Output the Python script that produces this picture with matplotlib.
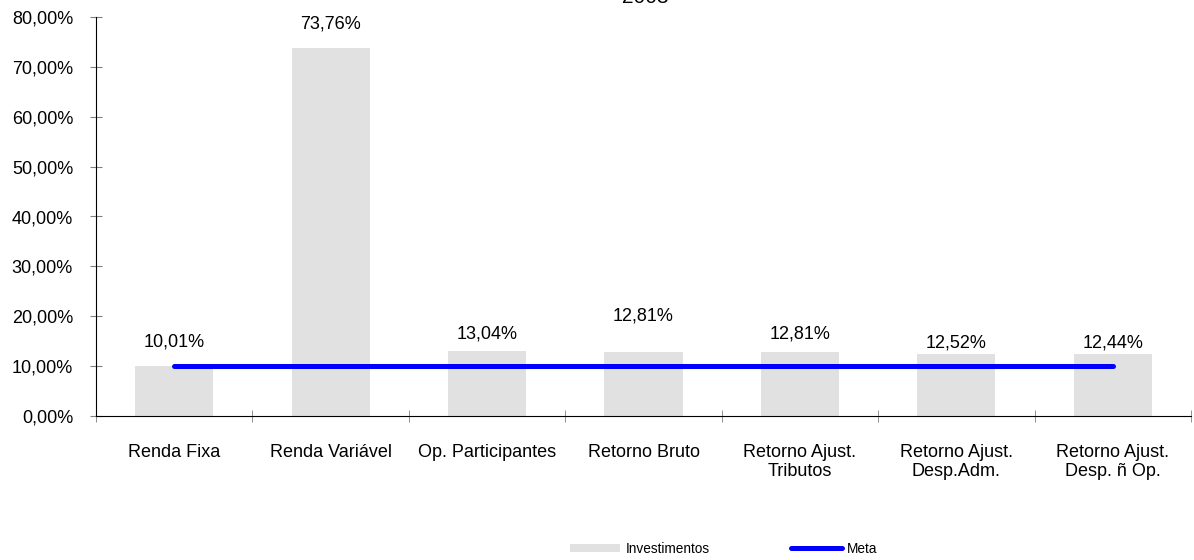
import matplotlib
matplotlib.use('Agg')
import matplotlib.pyplot as plt
from matplotlib.ticker import FuncFormatter, FixedLocator

plt.rcParams['font.family'] = ['Liberation Sans', 'DejaVu Sans']

title = '2003'
categories = ['Renda Fixa', 'Renda Variável', 'Op. Participantes', 'Retorno Bruto',
              'Retorno Ajust.\nTributos', 'Retorno Ajust.\nDesp.Adm.', 'Retorno Ajust.\nDesp. ñ Op.']
investimentos = [10.01, 73.76, 13.04, 12.81, 12.81, 12.52, 12.44]
meta = [10.0] * 7
label_gap = [11, 11, 6, 20, 7, 1.5, 1.5]


def pct(v, pos=None):
    return ('%.2f%%' % v).replace('.', ',')


fig = plt.figure(figsize=(11.94, 5.6), dpi=100)
ax = fig.add_axes([96 / 1194, 1 - 416 / 560, 1095 / 1194, 399 / 560])

x = list(range(len(categories)))
bars = ax.bar(x, investimentos, width=0.5, color='#e1e1e1', label='Investimentos', zorder=1)
line, = ax.plot(x, meta, color='#0000ff', lw=3.6, solid_capstyle='round', label='Meta', zorder=2)

for xi, v, g in zip(x, investimentos, label_gap):
    ax.annotate(pct(v), (xi, v), xytext=(0, g), textcoords='offset points',
                ha='center', va='bottom', fontsize=13)

ax.set_xlim(-0.5, len(categories) - 0.5)
ax.set_ylim(0, 80)
ax.set_yticks(range(0, 81, 10))
ax.yaxis.set_major_formatter(FuncFormatter(pct))
ax.tick_params(axis='y', direction='inout', length=9, color='#808080', labelsize=13, pad=12)

ax.set_xticks(x)
ax.set_xticklabels(categories)
ax.tick_params(axis='x', which='major', length=0, labelsize=13, pad=20)
ax.xaxis.set_minor_locator(FixedLocator([i - 0.5 for i in range(len(categories) + 1)]))
ax.tick_params(axis='x', which='minor', direction='inout', length=9, color='#808080')

for s in ['top', 'right']:
    ax.spines[s].set_visible(False)

fig.text(645 / 1194, 1 - 3 / 560, title, ha='center', va='baseline', fontsize=15)

fig.legend([bars, line], ['Investimentos', 'Meta'], loc='center',
           bbox_to_anchor=(0.606, 0.02), ncol=2, frameon=False,
           fontsize=9.8, handlelength=3.7, handleheight=0.5, columnspacing=6,
           handletextpad=0.4)

fig.savefig('out.png', dpi=100)
